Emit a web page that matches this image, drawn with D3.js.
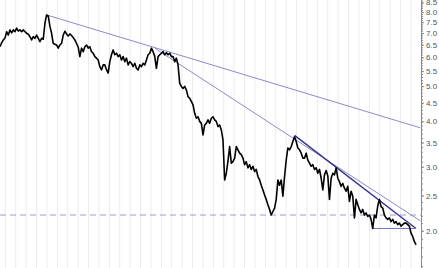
<!DOCTYPE html>
<html lang="en">
<head>
    <meta charset="UTF-8">
    <title>Price chart</title>
    <script src="https://d3js.org/d3.v7.min.js"></script>
    <style>
        body { margin: 0; background: #fff; }
        .grid line { stroke: #ececec; }
        .axis path, .axis line { stroke: #8a8a8a; }
        .axis text { fill: #555; font-family: "Liberation Sans", Arial, sans-serif; font-size: 8px; }
    </style>
</head>
<body>
    <script>
        // closing prices, one every ~0.16 month
        const firstMonth = -0.51;
        const monthStep = 0.16;
        const prices = [
            6.42, 6.58, 6.70, 6.78, 7.06, 6.91, 7.14, 7.01, 7.14, 7.06,
            7.22, 7.09, 7.14, 7.06, 7.14, 7.06, 6.99, 6.95, 6.84, 6.70,
            6.84, 6.77, 6.91, 6.77, 6.63, 6.77, 6.73, 7.45, 7.85, 7.80,
            7.30, 6.99, 6.55, 6.52, 6.49, 6.36, 6.49, 6.56, 6.91, 7.08,
            6.96, 6.87, 6.96, 6.89, 6.80, 6.70, 6.55, 6.40, 6.03, 6.36,
            6.22, 6.42, 6.49, 6.36, 6.42, 6.22, 6.16, 6.03, 5.97, 5.90,
            5.66, 5.54, 5.72, 5.72, 5.55, 5.43, 5.84, 6.10, 6.29, 6.10,
            6.16, 6.03, 6.10, 5.90, 6.03, 5.84, 5.97, 5.72, 5.84, 5.78,
            5.66, 5.78, 5.60, 5.54, 5.72, 5.66, 5.78, 5.72, 5.90, 6.10,
            6.16, 6.36, 6.22, 6.03, 5.60, 6.03, 6.10, 6.16, 6.22, 6.10,
            6.18, 6.10, 6.16, 6.03, 6.03, 5.84, 5.97, 5.72, 5.09, 4.99,
            4.93, 4.99, 4.88, 4.68, 4.63, 4.54, 4.44, 4.21, 4.08, 4.12,
            4.00, 3.95, 3.67, 3.91, 3.95, 4.04, 3.95, 4.08, 4.12, 4.04,
            4.00, 3.87, 3.91, 3.79, 3.56, 2.76, 2.88, 3.11, 3.41, 3.07,
            3.10, 3.17, 3.41, 3.34, 3.27, 3.24, 3.17, 3.04, 3.10, 2.98,
            3.04, 2.95, 3.01, 2.91, 2.95, 2.82, 2.76, 2.67, 2.59, 2.51,
            2.44, 2.36, 2.29, 2.21, 2.26, 2.31, 2.44, 2.76, 2.67, 2.76,
            2.49, 2.82, 3.13, 3.38, 3.34, 3.41, 3.52, 3.63, 3.52, 3.38,
            3.34, 3.27, 3.17, 3.17, 3.27, 3.13, 3.07, 3.01, 3.04, 2.95,
            2.98, 2.88, 2.95, 2.79, 2.59, 2.85, 2.93, 2.83, 2.44, 2.79,
            2.88, 2.85, 2.98, 2.79, 2.73, 2.65, 2.70, 2.62, 2.57, 2.65,
            2.41, 2.57, 2.49, 2.17, 2.44, 2.36, 2.29, 2.24, 2.29, 2.21,
            2.24, 2.19, 2.21, 2.15, 2.03, 2.21, 2.17, 2.34, 2.44, 2.33,
            2.31, 2.21, 2.17, 2.15, 2.17, 2.12, 2.15, 2.10, 2.12, 2.08,
            2.10, 2.06, 2.08, 2.10, 2.10, 2.08, 2.06, 1.97, 1.93, 1.87,
            1.83
        ];

        // trend lines: [startIndex, startPrice, endIndex, endPrice]
        const trendThin = [[28, 7.85, 252.6, 3.84], [93, 6.36, 252.6, 2.13]];
        const trendThick = [177, 3.66, 250, 2.03];
        const supportLevel = [224, 250, 2.03];
        const dashedLevel = 2.21;

        const tickLabels = [2.0, 2.5, 3.0, 3.5, 4.0, 4.5, 5.0, 5.5, 6.0, 6.5, 7.0, 7.5, 8.0, 8.5];
        const gridMonths = d3.range(0, 40);

        const svgWidth = 439, svgHeight = 268;
        const plotRight = 421;

        const svg = d3.select("body").append("svg")
            .attr("width", svgWidth)
            .attr("height", svgHeight);

        const x = d3.scaleLinear().domain([-0.51, 39.97]).range([0, plotRight]);
        const y = d3.scaleLog().domain([1.58, 8.63]).range([svgHeight, 0]);
        const xi = i => x(firstMonth + i * monthStep);

        // vertical month grid
        svg.append("g").attr("class", "grid")
            .selectAll("line")
            .data(gridMonths)
            .enter().append("line")
            .attr("x1", d => x(d)).attr("x2", d => x(d))
            .attr("y1", 0).attr("y2", svgHeight);

        // dashed level
        svg.append("line")
            .attr("x1", 0).attr("x2", plotRight)
            .attr("y1", y(dashedLevel)).attr("y2", y(dashedLevel))
            .attr("stroke", "#9d9dd6")
            .attr("stroke-width", 1)
            .attr("stroke-dasharray", "6,4");

        // trend lines
        svg.selectAll(".trend")
            .data(trendThin)
            .enter().append("line")
            .attr("class", "trend")
            .attr("x1", d => xi(d[0])).attr("y1", d => y(d[1]))
            .attr("x2", d => xi(d[2])).attr("y2", d => y(d[3]))
            .attr("stroke", "#8a8acc")
            .attr("stroke-width", 1);

        svg.append("line")
            .attr("x1", xi(trendThick[0])).attr("y1", y(trendThick[1]))
            .attr("x2", xi(trendThick[2])).attr("y2", y(trendThick[3]))
            .attr("stroke", "#33338f")
            .attr("stroke-width", 1.4);

        svg.append("line")
            .attr("x1", xi(supportLevel[0])).attr("x2", xi(supportLevel[1]))
            .attr("y1", y(supportLevel[2])).attr("y2", y(supportLevel[2]))
            .attr("stroke", "#7070c0")
            .attr("stroke-width", 1);

        // price line
        const line = d3.line()
            .x((d, i) => xi(i))
            .y(d => y(d));

        svg.append("path")
            .datum(prices)
            .attr("d", line)
            .attr("fill", "none")
            .attr("stroke", "#000")
            .attr("stroke-width", 1.6)
            .attr("stroke-linejoin", "round");

        // right axis: minor ticks every 0.1, labels every 0.5
        const minorTicks = d3.range(16, 87).map(d => d / 10);
        svg.append("g").attr("class", "axis")
            .attr("transform", "translate(" + plotRight + ",0)")
            .call(d3.axisRight(y).tickValues(minorTicks).tickSize(2).tickFormat("").tickSizeOuter(0));

        svg.append("g").attr("class", "axis")
            .attr("transform", "translate(" + plotRight + ",0)")
            .call(d3.axisRight(y).tickValues(tickLabels).tickSize(3).tickPadding(2)
                .tickFormat(d3.format(".1f")).tickSizeOuter(0))
            .call(g => g.select(".domain").remove());
    </script>
</body>
</html>
